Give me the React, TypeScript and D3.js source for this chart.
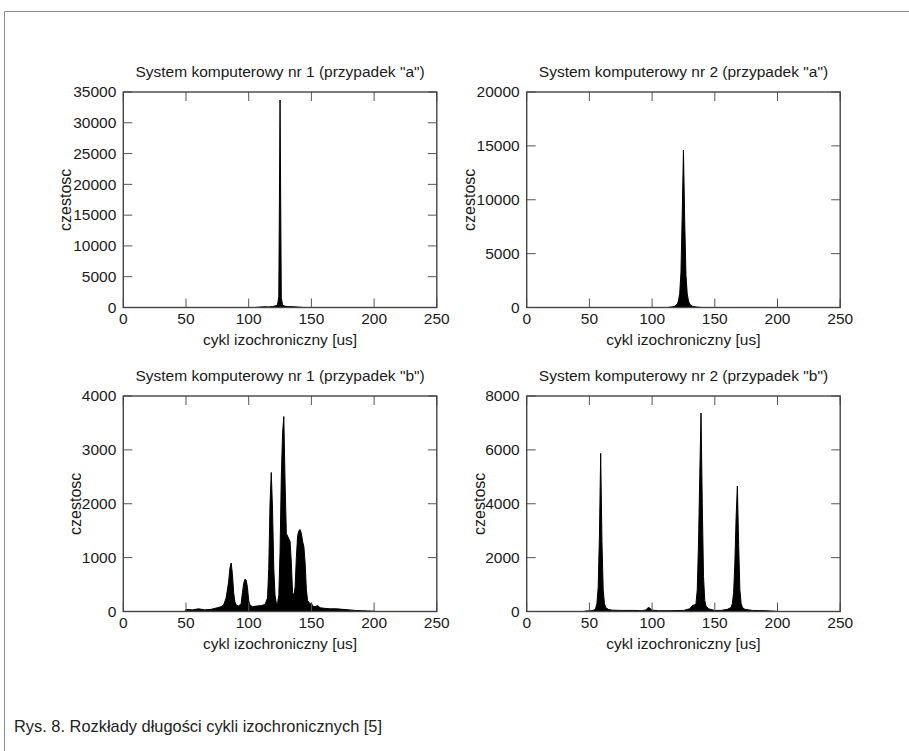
import React from 'react';
import * as d3 from 'd3';

// histogram samples: [cycle length in us, count]
const sys1a: [number, number][] = [
  [0, 0], [105, 0], [108, 60], [112, 120], [116, 100], [119, 150], [121, 250], [123, 400],
  [124, 1800], [125, 33700], [126, 1600], [127, 400], [129, 200], [132, 150], [136, 120],
  [140, 60], [144, 0], [250, 0],
];

const sys2a: [number, number][] = [
  [0, 0], [112, 0], [116, 60], [118, 120], [120, 300], [121, 600], [122, 1300], [123, 3200],
  [124, 8500], [125, 14600], [126, 8000], [127, 3000], [128, 1300], [129, 600], [130, 300],
  [132, 120], [135, 50], [140, 0], [250, 0],
];

const sys1b: [number, number][] = [
  [0, 0], [49, 0], [50, 40], [55, 30], [60, 50], [65, 30], [70, 40], [75, 70], [78, 90],
  [80, 120], [82, 250], [84, 550], [85, 800], [86, 900], [87, 700], [88, 350], [89, 180],
  [90, 120], [92, 100], [94, 150], [95, 350], [96, 520], [97, 600], [98, 580], [99, 450],
  [100, 200], [101, 120], [103, 90], [106, 100], [110, 110], [113, 130], [115, 250],
  [116, 800], [117, 2000], [118, 2580], [119, 1900], [120, 800], [121, 300], [122, 160],
  [123, 150], [124, 300], [125, 1100], [126, 2500], [127, 3300], [128, 3620], [129, 2400],
  [130, 1450], [131, 1400], [132, 1350], [133, 1300], [134, 900], [135, 350], [136, 300],
  [137, 450], [138, 1000], [139, 1400], [140, 1500], [141, 1520], [142, 1450], [143, 1300],
  [144, 1200], [145, 900], [146, 400], [147, 200], [149, 140], [150, 160], [151, 100],
  [153, 90], [155, 110], [157, 70], [160, 60], [165, 50], [170, 50], [175, 40], [180, 30],
  [185, 20], [190, 15], [195, 10], [200, 5], [201, 0], [250, 0],
];

const sys2b: [number, number][] = [
  [0, 0], [45, 0], [48, 20], [52, 30], [54, 60], [55, 120], [56, 300], [57, 900], [58, 2800],
  [59, 5870], [60, 2600], [61, 800], [62, 300], [63, 150], [65, 80], [68, 50], [75, 40],
  [85, 40], [92, 30], [95, 60], [97, 150], [98, 130], [100, 50], [105, 30], [115, 30],
  [125, 40], [130, 100], [132, 220], [134, 250], [135, 300], [136, 800], [137, 2500],
  [138, 5000], [139, 7370], [140, 4000], [141, 1300], [142, 400], [143, 200], [145, 100],
  [150, 40], [155, 40], [160, 80], [163, 150], [164, 300], [165, 700], [166, 1800],
  [167, 3500], [168, 4660], [169, 2500], [170, 800], [171, 300], [172, 150], [174, 80],
  [180, 40], [190, 30], [198, 10], [200, 0], [250, 0],
];

const titles = [
  'System komputerowy nr 1 (przypadek "a")',
  'System komputerowy nr 2 (przypadek "a")',
  'System komputerowy nr 1 (przypadek "b")',
  'System komputerowy nr 2 (przypadek "b")',
];
const yMaxes = [35000, 20000, 4000, 8000];
const yStep = [5000, 5000, 1000, 2000];
const xTicks = [0, 50, 100, 150, 200, 250];
const xLabel = 'cykl izochroniczny [us]';
const yLabel = 'czestosc';
const caption = 'Rys. 8. Rozkłady długości cykli izochronicznych [5]';

const series = [sys1a, sys2a, sys1b, sys2b];

const W = 909;
const H = 751;
const plotW = 313.5;
const plotH = 215.5;
const lefts = [123.3, 526.7];
const tops = [92, 396];
const font = 'Liberation Sans, Arial, Helvetica, sans-serif';
const tickLen = 9;
const fs = 15.5;

const Panel = ({ i }: { i: number }) => {
  const left = lefts[i % 2];
  const top = tops[Math.floor(i / 2)];
  const x = d3.scaleLinear().domain([0, 250]).range([0, plotW]);
  const y = d3.scaleLinear().domain([0, yMaxes[i]]).range([plotH, 0]);
  const yTicks = d3.range(0, yMaxes[i] + 1, yStep[i]);
  const area = d3
    .area<[number, number]>()
    .x(d => x(d[0]))
    .y0(y(0))
    .y1(d => y(d[1]));
  const labelOff = yMaxes[i] >= 10000 ? 52 : 42;

  return (
    <g transform={`translate(${left},${top})`} fontFamily={font} fill="#1a1a1a">
      <text x={plotW / 2} y={-15.5} textAnchor="middle" fontSize={fs}>
        {titles[i]}
      </text>
      <path d={area(series[i]) || ''} fill="#000" stroke="#000" strokeWidth={1} strokeLinejoin="round" />
      {/* inward ticks on all four sides */}
      {xTicks.map(t => (
        <g key={'x' + t} stroke="#555" strokeWidth={1}>
          <line x1={x(t)} x2={x(t)} y1={plotH} y2={plotH - tickLen} />
          <line x1={x(t)} x2={x(t)} y1={0} y2={tickLen} />
        </g>
      ))}
      {yTicks.map(t => (
        <g key={'y' + t} stroke="#555" strokeWidth={1}>
          <line x1={0} x2={tickLen} y1={y(t)} y2={y(t)} />
          <line x1={plotW} x2={plotW - tickLen} y1={y(t)} y2={y(t)} />
        </g>
      ))}
      <rect x={0} y={0} width={plotW} height={plotH} fill="none" stroke="#444" strokeWidth={1.4} />
      {xTicks.map(t => (
        <text key={'xl' + t} x={x(t)} y={plotH + 16} textAnchor="middle" fontSize={fs}>
          {t}
        </text>
      ))}
      {yTicks.map(t => (
        <text key={'yl' + t} x={-7} y={y(t) + 5.3} textAnchor="end" fontSize={fs}>
          {t}
        </text>
      ))}
      <text x={plotW / 2} y={plotH + 37} textAnchor="middle" fontSize={fs}>
        {xLabel}
      </text>
      <text
        transform={`translate(${-labelOff},${plotH / 2}) rotate(-90)`}
        textAnchor="middle"
        fontSize={16}
      >
        {yLabel}
      </text>
    </g>
  );
};

const App = () => (
  <div style={{ position: 'absolute', left: 0, top: 0 }}>
    <svg width={W} height={H} style={{ display: 'block', background: '#fff' }}>
      <rect x={0} y={0} width={W} height={H} fill="#fff" />
      <line x1={4.5} x2={W} y1={11.5} y2={11.5} stroke="#8a8a8a" strokeWidth={1} />
      <line x1={4.5} x2={4.5} y1={11.5} y2={H} stroke="#8a8a8a" strokeWidth={1} />
      {[0, 1, 2, 3].map(i => (
        <Panel key={i} i={i} />
      ))}
      <text x={14} y={732} fontFamily={font} fontSize={16.4} fill="#222">
        {caption}
      </text>
    </svg>
  </div>
);

export default App;
